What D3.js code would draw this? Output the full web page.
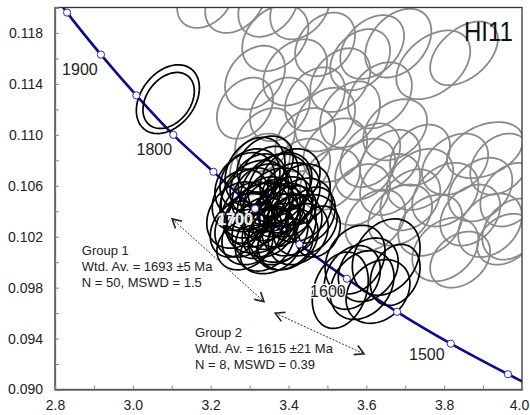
<!DOCTYPE html>
<html><head><meta charset="utf-8">
<script src="https://cdn.jsdelivr.net/npm/d3@7"></script>
<style>body{margin:0;background:#fff} svg{display:block} text{font-family:"Liberation Sans",Arial,Helvetica,sans-serif}</style>
</head><body><svg id="c" width="530" height="415"></svg>
<script>
// Concordia reference points (Ma, 238U/206Pb, 207Pb/206Pb)
const concAge = [2000, 1950, 1900, 1850, 1800, 1750, 1700, 1650, 1600, 1550, 1500, 1450, 1400];
const concX   = [2.749, 2.831, 2.918, 3.009, 3.104, 3.207, 3.314, 3.428, 3.550, 3.679, 3.817, 3.964, 4.122];
const concY   = [0.1230, 0.1196, 0.1163, 0.1131, 0.1100, 0.1071, 0.1042, 0.1014, 0.0987, 0.0961, 0.0936, 0.0912, 0.0888];
const ageLabels = [1900, 1800, 1700, 1600, 1500];

const xTicks  = [2.8, 2.9, 3.0, 3.1, 3.2, 3.3, 3.4, 3.5, 3.6, 3.7, 3.8, 3.9, 4.0];
const xLabels = [2.8, 3.0, 3.2, 3.4, 3.6, 3.8, 4.0];
const yTicks  = [0.090, 0.092, 0.094, 0.096, 0.098, 0.100, 0.102, 0.104, 0.106, 0.108, 0.110, 0.112, 0.114, 0.116, 0.118, 0.120];
const yLabels = [0.090, 0.094, 0.098, 0.102, 0.106, 0.110, 0.114, 0.118];

// Ellipses: [x, y, x half-extent, y half-extent, rho]
const greyEllipses = [
 [3.186,0.1206,0.072,0.0022,0.3],[3.263,0.1204,0.077,0.0024,0.3],[3.348,0.1202,0.077,0.0025,0.3],[3.430,0.1200,0.077,0.0025,0.3],
 [3.366,0.1176,0.085,0.0026,0.3],[3.494,0.1171,0.077,0.0025,0.3],[3.615,0.1169,0.082,0.0025,0.35],[3.772,0.1155,0.095,0.0027,0.4],
 [3.851,0.1164,0.087,0.0025,0.45],[3.682,0.1172,0.085,0.0027,0.35],[3.314,0.1145,0.077,0.0025,0.3],[3.417,0.1149,0.082,0.0026,0.3],
 [3.533,0.1143,0.077,0.0025,0.3],[3.635,0.1131,0.082,0.0026,0.3],[3.288,0.1121,0.072,0.0024,0.3],[3.378,0.1120,0.077,0.0025,0.3],
 [3.468,0.1128,0.077,0.0025,0.3],[3.558,0.1116,0.077,0.0026,0.3],[3.674,0.1104,0.082,0.0024,0.3],[3.340,0.1096,0.077,0.0025,0.3],
 [3.443,0.1096,0.077,0.0025,0.3],[3.520,0.1088,0.082,0.0025,0.3],[3.610,0.1084,0.077,0.0025,0.3],[3.905,0.1088,0.098,0.0022,0.35],
 [3.944,0.1077,0.077,0.0024,0.3],[3.828,0.1077,0.085,0.0024,0.3],[3.738,0.1065,0.085,0.0024,0.3],[3.661,0.1061,0.077,0.0024,0.3],
 [3.803,0.1053,0.085,0.0025,0.3],[3.893,0.1057,0.082,0.0025,0.3],[3.970,0.1053,0.077,0.0025,0.3],[3.584,0.1053,0.077,0.0024,0.3],
 [3.687,0.1037,0.082,0.0024,0.3],[3.764,0.1029,0.082,0.0024,0.3],[3.803,0.1010,0.085,0.0025,0.3],[3.918,0.1029,0.082,0.0025,0.3],
 [3.975,0.1026,0.077,0.0024,0.3],[3.867,0.1037,0.077,0.0024,0.3],[3.507,0.1065,0.077,0.0024,0.3],[3.584,0.1159,0.077,0.0024,0.3],
 [3.738,0.1084,0.077,0.0024,0.3],[3.430,0.1073,0.077,0.0024,0.3],[3.623,0.1033,0.077,0.0024,0.3],[3.327,0.1077,0.077,0.0024,0.3],
 [3.494,0.1112,0.077,0.0025,0.3],[3.597,0.1073,0.077,0.0024,0.3],[3.713,0.1049,0.077,0.0024,0.3],[3.661,0.1080,0.077,0.0024,0.3],
 [3.841,0.1002,0.077,0.0022,0.3],[3.957,0.1018,0.072,0.0020,0.3]
];
const group1Ellipses = [
 [3.090,0.1128,0.081,0.0027,0.33],[3.092,0.1127,0.066,0.0022,0.33],
 [3.314,0.1071,0.077,0.0027,0.25],[3.348,0.1066,0.077,0.0025,0.25],[3.288,0.1061,0.077,0.0025,0.25],[3.378,0.1061,0.082,0.0025,0.25],
 [3.270,0.1037,0.080,0.0026,0.25],[3.301,0.1049,0.077,0.0025,0.25],[3.332,0.1053,0.077,0.0024,0.25],[3.366,0.1049,0.082,0.0025,0.25],
 [3.404,0.1053,0.077,0.0025,0.25],[3.430,0.1041,0.082,0.0025,0.25],[3.443,0.1029,0.082,0.0024,0.25],[3.288,0.1029,0.077,0.0025,0.25],
 [3.322,0.1037,0.082,0.0025,0.25],[3.353,0.1041,0.077,0.0024,0.25],[3.384,0.1037,0.077,0.0025,0.25],[3.409,0.1029,0.077,0.0024,0.25],
 [3.306,0.1022,0.077,0.0024,0.25],[3.340,0.1018,0.077,0.0025,0.25],[3.373,0.1022,0.077,0.0024,0.25],[3.399,0.1018,0.077,0.0024,0.25],
 [3.327,0.1027,0.072,0.0024,0.25],[3.358,0.1032,0.072,0.0022,0.25],[3.301,0.1041,0.072,0.0022,0.25],[3.340,0.1045,0.072,0.0022,0.25],
 [3.391,0.1045,0.072,0.0022,0.25],[3.276,0.1049,0.072,0.0024,0.25],[3.425,0.1022,0.077,0.0024,0.25],[3.366,0.1057,0.090,0.0028,0.25],
 [3.322,0.1061,0.072,0.0024,0.25],[3.404,0.1065,0.077,0.0024,0.25],[3.288,0.1014,0.072,0.0020,0.25],[3.353,0.1010,0.077,0.0019,0.25],
 [3.384,0.1027,0.087,0.0027,0.25],[3.332,0.1035,0.093,0.0028,0.25],[3.430,0.1053,0.077,0.0024,0.25],[3.314,0.1053,0.087,0.0027,0.25],
 [3.373,0.1040,0.067,0.0020,0.25],[3.348,0.1024,0.067,0.0020,0.25],[3.296,0.1035,0.062,0.0020,0.25],[3.404,0.1040,0.067,0.0020,0.25],
 [3.456,0.1037,0.064,0.0022,0.25],[3.263,0.1026,0.064,0.0022,0.25],[3.340,0.1077,0.072,0.0022,0.25],[3.391,0.1014,0.072,0.0020,0.25],
 [3.476,0.1024,0.057,0.0020,0.25],[3.301,0.1065,0.077,0.0024,0.25]
];
const group2Ellipses = [
 [3.533,0.0978,0.072,0.0030,0.25],[3.589,0.0982,0.082,0.0027,0.25],[3.630,0.0977,0.082,0.0025,0.25],[3.651,0.1004,0.087,0.0030,0.25],
 [3.605,0.0994,0.077,0.0025,0.25],[3.564,0.0988,0.072,0.0025,0.25],[3.674,0.0990,0.064,0.0024,0.25],[3.571,0.1002,0.077,0.0027,0.25]
];

const sampleName = "HI11";
const group1Text = ["Group 1", "Wtd. Av. = 1693 ±5 Ma", "N = 50, MSWD = 1.5"];
const group2Text = ["Group 2", "Wtd. Av. = 1615 ±21 Ma", "N = 8, MSWD = 0.39"];
// annotation anchors in data units
const group1Pos = [2.869, 0.1006];
const group2Pos = [3.160, 0.0941];
const arrow1 = [[3.101, 0.1034], [3.337, 0.0969]];
const arrow2 = [[3.366, 0.0960], [3.594, 0.0928]];
const namePos = [3.851, 0.1174];

const svg = d3.select("#c");
const x = d3.scaleLinear().domain([2.8, 4.0]).range([55, 522]);
const y = d3.scaleLinear().domain([0.090, 0.120]).range([389.5, 7.5]);

const defs = svg.append("defs");
defs.append("clipPath").attr("id","clip")
  .append("rect").attr("x",55).attr("y",7.5).attr("width",467).attr("height",382);
defs.append("marker").attr("id","arr").attr("viewBox","-12 -7 14 14")
  .attr("markerWidth",14).attr("markerHeight",14).attr("markerUnits","userSpaceOnUse")
  .attr("refX",0).attr("refY",0).attr("orient","auto-start-reverse")
  .append("path").attr("d","M-9,-5 L0,0 L-9,5").attr("fill","none").attr("stroke","#222").attr("stroke-width",1.6);

function ellipsePath(e){
  const [cx, cy, sx, sy, r] = e; const k = Math.sqrt(1 - r*r);
  const pts = d3.range(90).map(i => { const t = i/90*2*Math.PI;
    return [x(cx + sx*Math.cos(t)), y(cy + sy*(r*Math.cos(t) + k*Math.sin(t)))]; });
  return d3.line().curve(d3.curveLinearClosed)(pts);
}

const plot = svg.append("g").attr("clip-path","url(#clip)");
plot.append("g").selectAll("path").data(greyEllipses).join("path")
  .attr("d", ellipsePath).attr("fill","none").attr("stroke","#8a8a8a").attr("stroke-width",1.8);

const conc = concAge.map((a,i)=>({age:a, x:concX[i], y:concY[i]}));
plot.append("path").datum(conc)
  .attr("d", d3.line().x(d=>x(d.x)).y(d=>y(d.y)).curve(d3.curveMonotoneX))
  .attr("fill","none").attr("stroke","#0b0b8c").attr("stroke-width",2.6);

plot.append("g").selectAll("path").data(group1Ellipses.concat(group2Ellipses)).join("path")
  .attr("d", ellipsePath).attr("fill","none").attr("stroke","#000").attr("stroke-width",1.7);

plot.append("g").selectAll("circle").data(conc).join("circle")
  .attr("cx", d=>x(d.x)).attr("cy", d=>y(d.y)).attr("r",3.6)
  .attr("fill","#fff").attr("stroke","#2a2ab0").attr("stroke-width",1);

// age labels
const labOff = {1900:[-21,20], 1800:[-19,20], 1700:[-20,16], 1600:[-19,18], 1500:[-24,16]};
svg.append("g").selectAll("text").data(conc.filter(d=>ageLabels.includes(d.age))).join("text")
  .attr("x", d=>x(d.x)+labOff[d.age][0]).attr("y", d=>y(d.y)+labOff[d.age][1])
  .attr("text-anchor","middle").attr("font-size",16)
  .attr("fill", d=>d.age===1700 ? "#f2f2f2" : "#222")
  .attr("stroke", d=>d.age===1700 ? "#777" : (d.age===1600 ? "#fff" : "none"))
  .attr("stroke-width", d=>d.age===1700 ? 0.7 : 2.5)
  .attr("paint-order","stroke")
  .attr("font-weight", d=>d.age===1700 ? "bold" : "normal")
  .text(d=>d.age);

// frame
svg.append("rect").attr("x",55).attr("y",7.5).attr("width",467).attr("height",382)
  .attr("fill","none").attr("stroke","#333").attr("stroke-width",1.3);

// axes
const fmtY = v => yLabels.some(l=>Math.abs(l-v)<1e-9) ? d3.format(".3f")(v) : "";
const fmtX = v => xLabels.some(l=>Math.abs(l-v)<1e-9) ? d3.format(".1f")(v) : "";
const ya = svg.append("g").attr("transform","translate(55,0)")
  .call(d3.axisLeft(y).tickValues(yTicks).tickFormat(fmtY).tickSize(-4).tickPadding(12));
const xa = svg.append("g").attr("transform","translate(0,389.5)")
  .call(d3.axisBottom(x).tickValues(xTicks).tickFormat(fmtX).tickSize(-4).tickPadding(11));
[ya, xa].forEach(a=>{
  a.select(".domain").attr("stroke","#666").attr("stroke-width",1.3);
  a.selectAll(".tick line").attr("stroke","#888");
  a.selectAll(".tick text").attr("font-size",14).attr("fill","#222")
   .attr("font-family",'"Liberation Sans",Arial,sans-serif');
});
xa.selectAll(".tick text").filter(d=>Math.abs(d-4.0)<1e-9).attr("dx",-3);

// arrows
[arrow1, arrow2].forEach(a=>{
  svg.append("line").attr("x1",x(a[0][0])).attr("y1",y(a[0][1])).attr("x2",x(a[1][0])).attr("y2",y(a[1][1]))
    .attr("stroke","#333").attr("stroke-width",1).attr("stroke-dasharray","2,1.5")
    .attr("marker-start","url(#arr)").attr("marker-end","url(#arr)");
});

// group texts
[[group1Text, group1Pos],[group2Text, group2Pos]].forEach(([lines,p])=>{
  const t = svg.append("text").attr("x",x(p[0])).attr("y",y(p[1])).attr("font-size",13).attr("fill","#222");
  lines.forEach((s,i)=>t.append("tspan").attr("x",x(p[0])).attr("dy", i===0?0:16).text(s));
});

svg.append("text").attr("x",x(namePos[0])).attr("y",y(namePos[1])).attr("font-size",28)
  .attr("textLength",49).attr("lengthAdjust","spacingAndGlyphs").attr("fill","#111").text(sampleName);
</script></body></html>
